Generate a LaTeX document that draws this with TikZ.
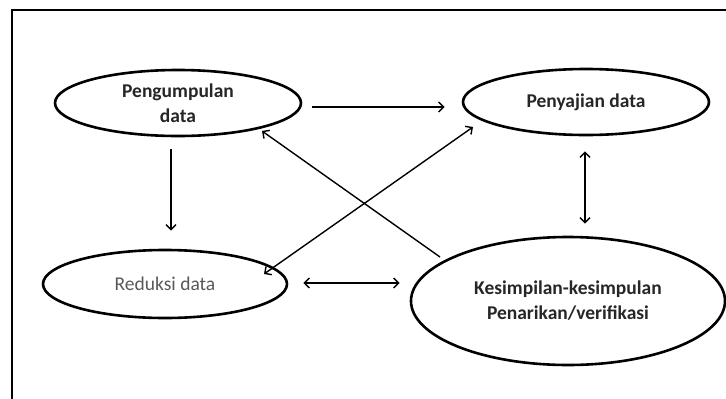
\documentclass[tikz,border=0pt]{standalone}
\usepackage{fontspec}
\setmainfont{Carlito}
\usetikzlibrary{shapes.geometric,arrows.meta}
\begin{document}
\begin{tikzpicture}[x=1pt,y=-1pt,
  oval/.style={ellipse,draw,line width=2.6pt,inner sep=0pt,align=center},
  lbl/.style={font=\fontsize{19.5}{25}\selectfont\bfseries,text=black!85},
  arr/.style={line width=1.4pt,-{Straight Barb[length=5pt,width=10pt,line width=1.4pt]}},
  darr/.style={line width=1.4pt,{Straight Barb[length=5pt,width=10pt,line width=1.4pt]}-{Straight Barb[length=5pt,width=10pt,line width=1.4pt]}}]
\useasboundingbox (0,0) rectangle (726,399);
\fill[white] (0,0) rectangle (726,399);
\draw[line width=2.4pt] (12,399) -- (12,10) -- (726,10);

\node[oval,lbl,minimum width=246pt,minimum height=66pt] (peng) at (178,103) {Pengumpulan\\data};
\node[oval,lbl,minimum width=246pt,minimum height=66pt] (peny) at (586,102) {Penyajian data};
\node[oval,minimum width=244pt,minimum height=68pt,font=\fontsize{19.5}{25}\selectfont,text=black!65] (red) at (165,284) {Reduksi data};
\node[oval,lbl,minimum width=314pt,minimum height=128pt] (kes) at (568,301) {Kesimpilan-kesimpulan\\Penarikan/verifikasi};

\draw[arr] ([xshift=10pt,yshift=-4pt]peng.east) -- ([xshift=-17pt,yshift=-5pt]peny.west);
\draw[arr] ([xshift=-7pt,yshift=-12pt]peng.south) -- ([xshift=6pt,yshift=18pt]red.north);
\draw[darr] ([xshift=-1pt,yshift=-15pt]peny.south) -- ([xshift=17pt,yshift=12pt]kes.north);
\draw[darr] ([xshift=15pt,yshift=1pt]red.east) -- ([xshift=-10pt,yshift=18pt]kes.west);
\draw[arr] ([xshift=-128pt,yshift=44pt]kes.center) -- ([xshift=84pt,yshift=-28pt]peng.center);
\draw[darr] ([xshift=99pt,yshift=10pt]red.center) -- ([xshift=-113pt,yshift=-25pt]peny.center);
\end{tikzpicture}
\end{document}
